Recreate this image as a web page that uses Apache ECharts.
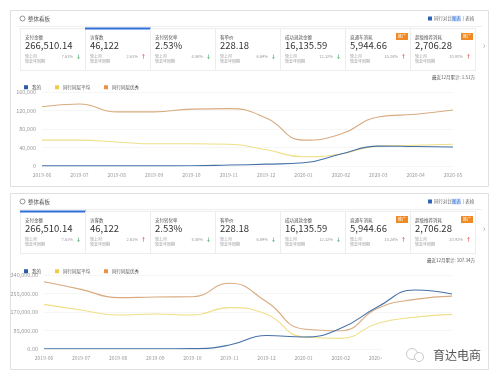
<!DOCTYPE html>
<html><head><meta charset="utf-8">
<script src="https://cdn.jsdelivr.net/npm/echarts@6/dist/echarts.min.js"></script>
<style>html,body{margin:0;padding:0;background:#fff}#c{width:499px;height:381px}</style>
</head><body><div id="c"></div>
<script>
const months = ['2019-06','2019-07','2019-08','2019-09','2019-10','2019-11','2019-12','2020-01','2020-02','2020-03','2020-04','2020-05'];
const seriesNames = ['我的','同行同层平均','同行同层优秀'];
const mine1 = [300,200,200,300,500,2000,4000,7000,26000,43000,42000,41000];
const avg1  = [56000,56000,52000,48000,48000,47000,35000,20000,26000,43000,45000,47000];
const top1  = [128000,134000,117000,117000,123000,124000,104000,56000,69000,106000,112000,121000];
const mine2 = [1000,1000,1000,1000,1500,18000,62000,55000,95000,194000,271000,253000];
const avg2  = [205000,179000,156000,161000,156000,190000,160000,55000,49000,118000,146000,159000];
const top2  = [309000,274000,236000,239000,240000,302000,217000,92000,84000,187000,228000,243000];
const yMax = [160000, 340000];
const yStep = [40000, 85000];
const kpiLabels = ['支付金额','访客数','支付转化率','客单价','成功退款金额','直通车消耗','超级推荐消耗'];
const kpiValues = ['266,510.14','46,122','2.53%','228.18','16,135.59','5,944.66','2,706.28'];
const kpiChanges = ['7.61%','2.61%','4.50%','6.69%','12.32%','15.24%','20.92%'];
const kpiUp = [false,true,false,false,false,true,true];
const kpiBadge = [false,false,false,false,false,true,true];
const totals = ['最近12月累计: 1.51万','最近12月累计: 107.34万'];
const selectedCard = [1, 0];

const FONT = '"Noto Sans CJK SC", "Noto Sans", sans-serif';
const lineColors = ['#4671a8','#efdf88','#d8ab80'];
const legendColors = ['#2b5ca6','#f2cb45','#e9934a'];

const graphics = [];
function txt(x,y,text,size,fill,align,weight,z){
  graphics.push({type:'text',x:x,y:y,z:z||0,silent:true,style:{text:text,fontSize:size,fill:fill,fontFamily:FONT,align:align||'left',verticalAlign:'middle',fontWeight:weight||'normal'}});
}
function rect(x,y,w,h,fill,stroke,lw,z){
  graphics.push({type:'rect',silent:true,z:z||0,shape:{x:x,y:y,width:w,height:h},style:{fill:fill||'none',stroke:stroke||null,lineWidth:lw||1}});
}
function ln(x1,y1,x2,y2,stroke,lw){
  graphics.push({type:'line',silent:true,shape:{x1:x1,y1:y1,x2:x2,y2:y2},style:{stroke:stroke,lineWidth:lw||1}});
}
const panelTop = [10, 193];
for (let p=0;p<2;p++){
  const o = p*183;
  rect(10.5, panelTop[p]+0.5, 478, 176, 'none', '#e0e0e0', 1);
  graphics.push({type:'circle',silent:true,shape:{cx:22.5,cy:18.5+o,r:2.5},style:{fill:'none',stroke:'#777',lineWidth:0.8}});
  txt(28,18.5+o,'整体看板',5.5,'#555');
  rect(428,16.5+o,4,4,'#2f63b5');
  txt(434,18.5+o,'同行对比',4.5,'#666');
  rect(451,15.5+o,10,6,'#dce8fa');
  txt(452,18.5+o,'图表',4.5,'#2f6fd8');
  txt(463,18.5+o,'| 表格',4.5,'#666');
  ln(18,26.5+o,482,26.5+o,'#efefef',1);
  for (let i=0;i<kpiLabels.length;i++){
    const cx = 20 + i*65;
    rect(cx+0.5,28.5+o,65,42,'none','#ededed',1);
    if (i===selectedCard[p]) rect(cx,27.5+o,66,2,'#2f6fd8');
    txt(cx+5,37+o,kpiLabels[i],4.5,'#555');
    txt(cx+5,45.5+o,kpiValues[i],9.5,'#333');
    txt(cx+5,56+o,'较上月',4,'#999');
    txt(cx+5,61+o,'较去年同期',4,'#999');
    txt(cx+53,56+o,kpiChanges[i],4,'#999','right');
    txt(cx+56,56+o,kpiUp[i]?'↑':'↓',5,kpiUp[i]?'#e0453a':'#35a35a','left','bold');
    if (kpiBadge[i]){
      rect(cx+51,33+o,12,7,'#f08a24');
      txt(cx+57,36.5+o,'推广',4,'#fff','center');
    }
  }
  txt(484,46+o,'›',9,'#aaa','center');
  txt(475,77+o,totals[p],4.5,'#555','right');
}
// watermark (covers the last axis labels)
rect(382,346,106,20,'#fff',null,1,50);
graphics.push({type:'circle',silent:true,z:51,shape:{cx:412,cy:354,r:5.5},style:{fill:'none',stroke:'#bbb',lineWidth:0.8}});
graphics.push({type:'circle',silent:true,z:52,shape:{cx:419,cy:357,r:4.5},style:{fill:'#fff',stroke:'#bbb',lineWidth:0.8}});
txt(433,355,'育达电商',12,'#555','left','normal',53);

function fmt1(v){return v.toLocaleString('en-US');}
function fmt2(v){return v.toLocaleString('en-US',{minimumFractionDigits:2,maximumFractionDigits:2});}

const data = [[mine1,avg1,top1],[mine2,avg2,top2]];
const series = [];
for (let p=0;p<2;p++){
  for (let s=0;s<3;s++){
    series.push({
      name: seriesNames[s], type:'line', smooth:true, showSymbol:false,
      xAxisIndex:p, yAxisIndex:p, data:data[p][s],
      lineStyle:{color:lineColors[s],width:1.1},
      itemStyle:{color:legendColors[s]},
      z: 3-s
    });
  }
}
const axisLabelStyle = {fontSize:5,color:'#999',fontFamily:FONT};
const option = {
  animation:false,
  backgroundColor:'#fff',
  graphic:{elements:graphics},
  legend:[0,1].map(p=>({
    data:seriesNames, left:19, top:80+p*184, icon:'rect', itemWidth:4, itemHeight:4,
    itemGap:14, selectedMode:false,
    textStyle:{fontSize:4.5,color:'#555',fontFamily:FONT,padding:[0,0,0,-1]}
  })),
  grid:[
    {left:42,right:46,top:92,height:74},
    {left:44,right:47,top:275,height:74}
  ],
  xAxis:[0,1].map(p=>({
    type:'category', gridIndex:p, data:months, boundaryGap:false,
    axisLine:{show:false}, axisTick:{show:false},
    axisLabel:Object.assign({margin:7,interval:0},axisLabelStyle)
  })),
  yAxis:[0,1].map(p=>({
    type:'value', gridIndex:p, min:0, max:yMax[p], interval:yStep[p],
    axisLine:{show:false}, axisTick:{show:false},
    splitLine:{lineStyle:{color:'#f6f6f6'}},
    axisLabel:Object.assign({margin:6,formatter:p===0?fmt1:fmt2,hideOverlap:false},axisLabelStyle,{fontSize:5.5,color:'#9a9a9a'})
  })),
  series:series
};
const chart = echarts.init(document.getElementById('c'),null,{renderer:'canvas',width:499,height:381});
chart.setOption(option);
</script></body></html>
